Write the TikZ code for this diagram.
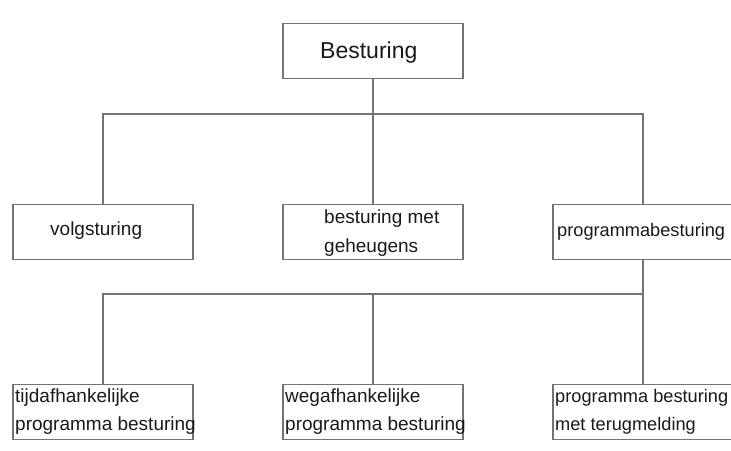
\documentclass[tikz,border=0pt]{standalone}
\usepackage{fontspec}
\setmainfont{Liberation Sans}
\begin{document}
\begin{tikzpicture}[x=1pt,y=-1pt,
  box/.style={draw=black!55, line width=1.2pt, minimum width=180pt, minimum height=55pt, inner sep=0pt, anchor=north},
  conn/.style={draw=black!55, line width=1.1pt},
  lbl/.style={anchor=base west, inner sep=0pt, font=\fontsize{19}{27}\selectfont, text=black!90},
  lbledge/.style={lbl, font=\fontsize{18.2}{27}\selectfont},
  big/.style={anchor=base west, inner sep=0pt, font=\fontsize{23}{28}\selectfont, text=black!90}]
\useasboundingbox (0,0) rectangle (731,450);
% boxes
\node[box] (top)  at (373,23) {};
\node[box] (m1)   at (103,204) {};
\node[box] (m2)   at (373,204) {};
\node[box] (m3)   at (643,204) {};
\node[box] (b1)   at (103,384) {};
\node[box] (b2)   at (373,384) {};
\node[box] (b3)   at (643,384) {};
% texts
\node[big] (ttop) at (320,58) {Besturing};
\node[lbl] (tm1) at (50,235) {volgsturing};
\node[lbl] (tm2a) at (324,223) {besturing met};
\node[lbl] (tm2b) at (324,252) {geheugens};
\node[lbledge] (tm3) at (557,236) {programmabesturing};
\node[lbl] (tb1a) at (15,402) {tijdafhankelijke};
\node[lbl] (tb1b) at (15,430) {programma besturing};
\node[lbl] (tb2a) at (285,402) {wegafhankelijke};
\node[lbl] (tb2b) at (285,430) {programma besturing};
\node[lbledge] (tb3a) at (555,402) {programma besturing};
\node[lbledge] (tb3b) at (555,430) {met terugmelding};
% junctions
\coordinate (j1) at (373,114);
\coordinate (j2) at (643,294);
% connectors
\draw[conn] (top.south) -- (j1);
\draw[conn] (m1.north) |- (j1) -| (m3.north);
\draw[conn] (j1) -- (m2.north);
\draw[conn] (m3.south) -- (b3.north);
\draw[conn] (b1.north) |- (j2);
\draw[conn] (b2.north) -- (b2.north |- j2);
\end{tikzpicture}
\end{document}
